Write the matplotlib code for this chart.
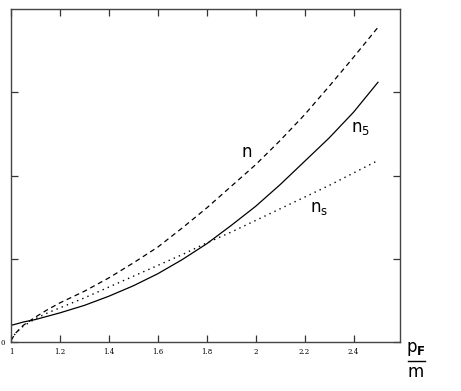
import numpy as np
import matplotlib
matplotlib.use("Agg")
import matplotlib.pyplot as plt

# curve samples (x = p_F / m)
pf = [1.0, 1.02, 1.05, 1.1, 1.15, 1.2, 1.3, 1.4, 1.5, 1.6, 1.7, 1.8, 1.9,
      2.0, 2.1, 2.2, 2.3, 2.4, 2.5]
n_tot = [0.02, 0.11, 0.20, 0.30, 0.39, 0.47, 0.61, 0.77, 0.95, 1.14, 1.37,
         1.61, 1.87, 2.13, 2.42, 2.73, 3.07, 3.42, 3.78]
n_5 = [0.20, 0.215, 0.24, 0.27, 0.31, 0.35, 0.44, 0.55, 0.675, 0.82, 0.99,
       1.18, 1.40, 1.63, 1.89, 2.17, 2.45, 2.76, 3.12]
n_s = [0.03, 0.11, 0.19, 0.28, 0.35, 0.41, 0.53, 0.66, 0.79, 0.92, 1.05,
       1.19, 1.32, 1.46, 1.60, 1.74, 1.88, 2.03, 2.18]

xticks = [1.0, 1.2, 1.4, 1.6, 1.8, 2.0, 2.2, 2.4]
xtick_labels = ["1", "1.2", "1.4", "1.6", "1.8", "2", "2.2", "2.4"]
yticks = [0, 1, 2, 3]
ytick_labels = ["0", "", "", ""]

plt.rcParams['mathtext.fontset'] = 'dejavusans'

fig = plt.figure(figsize=(4.61, 3.91), dpi=100)
ax = fig.add_axes([11 / 461, 1 - 342 / 391, 389 / 461, 333 / 391])

ax.plot(pf, n_tot, color='black', lw=0.9, dashes=(4, 3))
ax.plot(pf, n_5, color='black', lw=0.9)
ax.plot(pf, n_s, color='black', lw=1.0, dashes=(1, 3))

ax.set_xlim(1.0, 2.59)
ax.set_ylim(0, 4)
ax.set_xticks(xticks)
ax.set_xticklabels(xtick_labels, family='DejaVu Serif', fontsize=5)
ax.set_yticks(yticks)
ax.set_yticklabels(ytick_labels, family='DejaVu Serif', fontsize=5)
ax.tick_params(direction='in', length=5, width=0.9, color='#333333',
               top=True, right=True, pad=4)
for s in ax.spines.values():
    s.set_color('#444444')
    s.set_linewidth(1.0)

# curve labels
ax.text(1.965, 2.28, "n", fontsize=12, ha='center', va='center')
ax.text(2.43, 2.57, "$\\mathregular{n_5}$", fontsize=12, ha='center', va='center')
ax.text(2.26, 1.61, "$\\mathregular{n_s}$", fontsize=12, ha='center', va='center')

# x-axis label as a fraction, outside the frame
fig.text(416 / 461, 1 - 349 / 391, "$\\mathregular{p_\\mathbf{F}}$", fontsize=12,
         ha='center', va='center')
fig.add_artist(plt.Line2D([408 / 461, 425 / 461], [1 - 361 / 391, 1 - 361 / 391],
                          color='black', lw=1.0))
fig.text(416 / 461, 1 - 372 / 391, "m", fontsize=12, ha='center', va='center')

fig.savefig("out.png", dpi=100)
